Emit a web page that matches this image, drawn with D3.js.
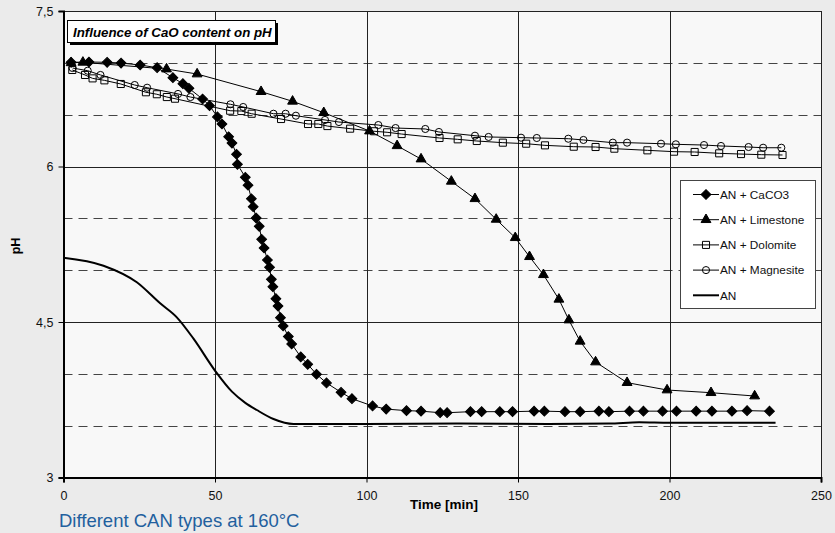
<!DOCTYPE html>
<html>
<head>
<meta charset="utf-8">
<script src="https://cdn.jsdelivr.net/npm/d3@7"></script>
<style>
  body { margin: 0; background: #ebebeb; }
  svg { display: block; font-family: "Liberation Sans", Arial, sans-serif; }
</style>
</head>
<body>
<svg id="viz"></svg>
<script>
var width = 835;
var height = 533;

// time [min] and pH values
var caco3T = [2.5, 8.4, 14.4, 19.0, 25.3, 30.9, 36.1, 39.4, 41.4, 45.9, 48.2, 50.8, 52.3, 54.5, 55.6, 57.1, 57.4, 60.0, 60.9, 62.0, 62.6, 63.6, 64.6, 65.4, 66.2, 67.3, 68.0, 68.6, 69.1, 70.1, 70.8, 71.6, 72.5, 74.2, 75.3, 78.3, 80.6, 83.5, 86.8, 91.6, 95.2, 102.0, 106.5, 113.2, 118.0, 124.3, 126.6, 134.3, 138.0, 144.0, 148.2, 155.3, 158.7, 165.5, 170.5, 176.7, 180.0, 186.8, 191.4, 197.7, 202.3, 208.8, 214.0, 220.6, 225.6, 233.0];
var caco3PH = [7.005, 7.008, 7.005, 6.998, 6.979, 6.953, 6.857, 6.799, 6.754, 6.651, 6.587, 6.478, 6.41, 6.287, 6.226, 6.118, 6.021, 5.896, 5.819, 5.689, 5.612, 5.503, 5.423, 5.298, 5.214, 5.098, 5.027, 4.912, 4.841, 4.725, 4.654, 4.542, 4.462, 4.359, 4.288, 4.163, 4.092, 3.996, 3.912, 3.822, 3.760, 3.69, 3.66, 3.645, 3.64, 3.625, 3.625, 3.635, 3.635, 3.635, 3.635, 3.64, 3.64, 3.635, 3.635, 3.64, 3.635, 3.64, 3.64, 3.64, 3.64, 3.64, 3.64, 3.64, 3.645, 3.64];

var limeT = [2.5, 6.4, 34.0, 44.1, 65.2, 75.6, 85.9, 101.0, 110.1, 118.0, 128.0, 135.8, 142.8, 149.1, 153.8, 158.4, 163.5, 166.8, 170.5, 175.6, 186.0, 199.2, 213.7, 228.1];
var limePH = [7.0, 7.005, 6.94, 6.892, 6.722, 6.629, 6.519, 6.342, 6.2, 6.072, 5.857, 5.689, 5.49, 5.313, 5.13, 4.956, 4.719, 4.519, 4.314, 4.114, 3.915, 3.844, 3.818, 3.786];

var doloT = [2.9, 7.1, 9.6, 13.5, 18.9, 27.2, 30.8, 34.1, 36.8, 55.0, 58.7, 62.1, 71.8, 80.7, 84.1, 87.1, 94.6, 102.5, 106.8, 111.6, 124.1, 130.1, 136.4, 145.0, 152.7, 158.9, 168.4, 175.6, 181.8, 192.7, 201.5, 208.3, 216.4, 223.6, 230.3, 237.3];
var doloPH = [6.931, 6.883, 6.85, 6.831, 6.796, 6.716, 6.697, 6.67, 6.654, 6.538, 6.535, 6.509, 6.458, 6.41, 6.41, 6.39, 6.365, 6.34, 6.33, 6.313, 6.275, 6.262, 6.246, 6.23, 6.22, 6.204, 6.191, 6.188, 6.172, 6.156, 6.143, 6.14, 6.127, 6.12, 6.114, 6.111];

var magnT = [3.0, 8.0, 12.2, 23.5, 27.6, 37.8, 41.9, 55.1, 59.3, 69.3, 73.3, 76.7, 86.3, 90.9, 103.9, 109.6, 119.4, 123.9, 135.8, 140.3, 151.0, 156.2, 166.6, 171.6, 181.3, 186.0, 197.2, 202.1, 211.4, 217.0, 226.1, 230.9, 236.9];
var magnPH = [6.95, 6.924, 6.883, 6.786, 6.76, 6.7, 6.67, 6.6, 6.574, 6.509, 6.509, 6.49, 6.449, 6.429, 6.4, 6.371, 6.362, 6.333, 6.297, 6.285, 6.278, 6.275, 6.268, 6.256, 6.23, 6.23, 6.22, 6.214, 6.207, 6.198, 6.188, 6.181, 6.181];

var anT = [0, 13.2, 24.2, 31.9, 37.4, 42.9, 50.1, 55.6, 60.0, 63.8, 69.3, 75.9, 100, 130, 160, 180, 190, 200, 220, 235];
var anPH = [5.12, 5.043, 4.883, 4.68, 4.545, 4.339, 4.027, 3.828, 3.72, 3.651, 3.564, 3.516, 3.516, 3.52, 3.516, 3.52, 3.533, 3.528, 3.528, 3.528];

var seriesNames = ["AN + CaCO3", "AN + Limestone", "AN + Dolomite", "AN + Magnesite", "AN"];
var xTicks = [0, 50, 100, 150, 200, 250];
var yTicks = [3, 4.5, 6, 7.5];
var yDashed = [3.5, 4, 5, 5.5, 6.5, 7];

function zip(t, p) { return t.map(function(d, i) { return {t: d, ph: p[i]}; }); }

var series = [
  {name: seriesNames[0], data: zip(caco3T, caco3PH), marker: "diamond"},
  {name: seriesNames[1], data: zip(limeT, limePH), marker: "triangle"},
  {name: seriesNames[2], data: zip(doloT, doloPH), marker: "square"},
  {name: seriesNames[3], data: zip(magnT, magnPH), marker: "circle"},
  {name: seriesNames[4], data: zip(anT, anPH), marker: null}
];

var x = d3.scaleLinear().domain([0, 250]).range([63.5, 821]);
var y = d3.scaleLinear().domain([3, 7.5]).range([477.5, 11]);

var svg = d3.select("#viz").attr("width", width).attr("height", height);

svg.append("rect").attr("width", width).attr("height", height).attr("fill", "#ebebeb");
svg.append("rect")
  .attr("x", x(0)).attr("y", y(7.5))
  .attr("width", x(250) - x(0)).attr("height", y(3) - y(7.5))
  .attr("fill", "#f8f8f8");

// grid
var grid = svg.append("g");
grid.selectAll("line.dash").data(yDashed).enter().append("line")
  .attr("x1", x(0)).attr("x2", x(250))
  .attr("y1", function(d) { return Math.round(y(d)) + 0.5; })
  .attr("y2", function(d) { return Math.round(y(d)) + 0.5; })
  .attr("stroke", "#444").attr("stroke-width", 1.2).attr("stroke-dasharray", "9,6");
grid.selectAll("line.h").data([4.5, 6, 7.5]).enter().append("line")
  .attr("x1", x(0)).attr("x2", x(250))
  .attr("y1", function(d) { return Math.round(y(d)) + 0.5; })
  .attr("y2", function(d) { return Math.round(y(d)) + 0.5; })
  .attr("stroke", "#222").attr("stroke-width", 1);
grid.selectAll("line.v").data([50, 100, 150, 200, 250]).enter().append("line")
  .attr("x1", function(d) { return Math.round(x(d)) + 0.5; })
  .attr("x2", function(d) { return Math.round(x(d)) + 0.5; })
  .attr("y1", y(7.5)).attr("y2", y(3))
  .attr("stroke", "#222").attr("stroke-width", 1);

// axes
var xAxis = svg.append("g").attr("transform", "translate(0," + y(3) + ")")
  .call(d3.axisBottom(x).tickValues(xTicks).tickSize(5).tickPadding(9));
var yAxis = svg.append("g").attr("transform", "translate(" + x(0) + ",0)")
  .call(d3.axisLeft(y).tickValues(yTicks).tickSize(5).tickPadding(5)
    .tickFormat(function(d) { return String(d).replace(".", ","); }));
[xAxis, yAxis].forEach(function(a) {
  a.select(".domain").attr("stroke", "#000").attr("stroke-width", 2);
  a.selectAll(".tick line").attr("stroke", "#000");
  a.selectAll("text").attr("font-size", 12.5).attr("fill", "#111")
    .attr("font-family", "Liberation Sans, Arial, sans-serif");
});

svg.append("text").attr("x", 444).attr("y", 509).attr("text-anchor", "middle")
  .attr("font-size", 13.5).attr("font-weight", "bold").text("Time [min]");
svg.append("text").attr("transform", "translate(20,246) rotate(-90)")
  .attr("text-anchor", "middle").attr("font-size", 12.5).attr("font-weight", "bold").text("pH");

// lines
var line = d3.line().x(function(d) { return x(d.t); }).y(function(d) { return y(d.ph); });
var anLine = d3.line().curve(d3.curveMonotoneX).x(function(d) { return x(d.t); }).y(function(d) { return y(d.ph); });

series.forEach(function(s) {
  svg.append("path").datum(s.data)
    .attr("d", s.marker ? line : anLine)
    .attr("fill", "none").attr("stroke", "#000")
    .attr("stroke-width", s.marker ? 1 : 2);
});

function markerPath(kind) {
  if (kind == "diamond") return d3.symbol().type(d3.symbolSquare).size(48)();
  if (kind == "triangle") return d3.symbol().type(d3.symbolTriangle).size(42)();
  if (kind == "square") return d3.symbol().type(d3.symbolSquare).size(50)();
  return d3.symbol().type(d3.symbolCircle).size(40)();
}

function drawMarkers(g, kind, pts) {
  var filled = kind == "diamond" || kind == "triangle";
  g.selectAll("path.m").data(pts).enter().append("path")
    .attr("d", markerPath(kind))
    .attr("transform", function(d) {
      return "translate(" + x(d.t) + "," + y(d.ph) + ")" + (kind == "diamond" ? " rotate(45)" : "");
    })
    .attr("fill", filled ? "#000" : "none")
    .attr("stroke", "#000").attr("stroke-width", 1);
}

[3, 2, 1, 0].forEach(function(i) {
  drawMarkers(svg.append("g"), series[i].marker, series[i].data);
});

// title box
svg.append("rect").attr("x", 70).attr("y", 23).attr("width", 208).attr("height", 22).attr("fill", "#000");
svg.append("rect").attr("x", 67.5).attr("y", 20.5).attr("width", 208).attr("height", 22)
  .attr("fill", "#fff").attr("stroke", "#000").attr("stroke-width", 1);
svg.append("text").attr("x", 73).attr("y", 36.5).attr("font-size", 13.3)
  .attr("font-weight", "bold").attr("font-style", "italic").text("Influence of CaO content on pH");

// legend
var legend = svg.append("g");
legend.append("rect").attr("x", 680.5).attr("y", 180.5).attr("width", 135).attr("height", 128)
  .attr("fill", "#fff").attr("stroke", "#444").attr("stroke-width", 1);
series.forEach(function(s, i) {
  var ly = 194.5 + i * 25.2;
  var g = legend.append("g");
  g.append("line").attr("x1", 693).attr("x2", 719).attr("y1", ly).attr("y2", ly)
    .attr("stroke", "#000").attr("stroke-width", s.marker ? 1 : 2);
  if (s.marker) {
    g.append("path").attr("d", markerPath(s.marker))
      .attr("transform", "translate(706," + ly + ")" + (s.marker == "diamond" ? " rotate(45)" : ""))
      .attr("fill", (s.marker == "diamond" || s.marker == "triangle") ? "#000" : "none")
      .attr("stroke", "#000").attr("stroke-width", 1);
  }
  g.append("text").attr("x", 720).attr("y", ly + 4.2).attr("font-size", 11.8).attr("fill", "#111").text(s.name);
});

svg.append("text").attr("x", 59).attr("y", 527).attr("font-size", 18.5)
  .attr("fill", "#22609e").text("Different CAN types at 160°C");
</script>
</body>
</html>
